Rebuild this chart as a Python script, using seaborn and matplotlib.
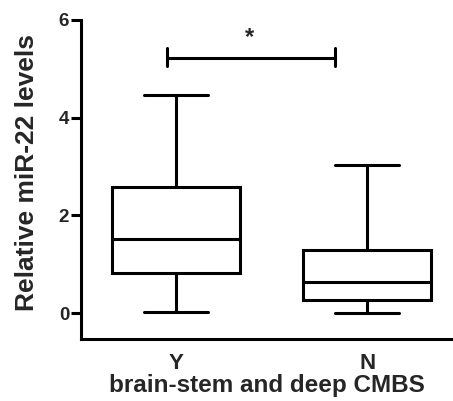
import matplotlib
matplotlib.use("Agg")
import matplotlib.pyplot as plt
import seaborn as sns
import pandas as pd

categories = ["Y", "N"]
y_summary = [0.03, 0.83, 1.51, 2.58, 4.47]   # min, Q1, median, Q3, max
n_summary = [0.01, 0.27, 0.63, 1.29, 3.03]
yticks = [0, 2, 4, 6]

df = pd.DataFrame({
    "group": ["Y"] * len(y_summary) + ["N"] * len(n_summary),
    "value": y_summary + n_summary,
})

sns.set_style("ticks")
plt.rcParams["font.family"] = ["Liberation Sans", "DejaVu Sans"]
plt.rcParams["font.weight"] = "bold"

fig = plt.figure(figsize=(4.53, 4.01), dpi=100)
ax = fig.add_axes([0.1788, 0.1546, 0.8212, 0.7958])

lw = 2.2
sns.boxplot(data=df, x="group", y="value", order=categories, whis=(0, 100),
            width=0.67, color="white", linewidth=lw, linecolor="black",
            showcaps=True, fliersize=0, ax=ax,
            boxprops=dict(facecolor="white", edgecolor="black", linewidth=lw),
            medianprops=dict(color="black", linewidth=lw),
            whiskerprops=dict(color="black", linewidth=lw),
            capprops=dict(color="black", linewidth=lw))

ax.set_xlim(-0.5, 1.45)
ax.set_ylim(-0.53, 6.0)
ax.set_yticks(yticks)
ax.set_yticklabels([str(t) for t in yticks], fontsize=13.5, fontweight="bold")
ax.tick_params(axis="y", length=7, width=lw, color="black", pad=1.5)
ax.tick_params(axis="x", length=0, pad=10, labelsize=16)
for lab in ax.get_xticklabels():
    lab.set_fontweight("bold")
for s in ["top", "right"]:
    ax.spines[s].set_visible(False)
for s in ["left", "bottom"]:
    ax.spines[s].set_linewidth(lw)
    ax.spines[s].set_color("black")
ax.spines["left"].set_bounds(-0.53, 6.0)

ax.set_ylabel("Relative miR-22 levels", fontsize=19, fontweight="bold")
ax.yaxis.set_label_coords(-0.112, 0.522)
ax.set_xlabel("brain-stem and deep CMBS", fontsize=17.5, fontweight="bold", labelpad=0)

# significance bracket
ax.plot([-0.05, 0.83], [5.21, 5.21], color="black", lw=lw, solid_capstyle="butt")
ax.plot([-0.05, -0.05], [5.05, 5.43], color="black", lw=lw)
ax.plot([0.83, 0.83], [5.05, 5.43], color="black", lw=lw)
ax.text(0.385, 5.63, "*", ha="center", va="center", fontsize=17, fontweight="bold")

fig.savefig("out.png", dpi=100)
